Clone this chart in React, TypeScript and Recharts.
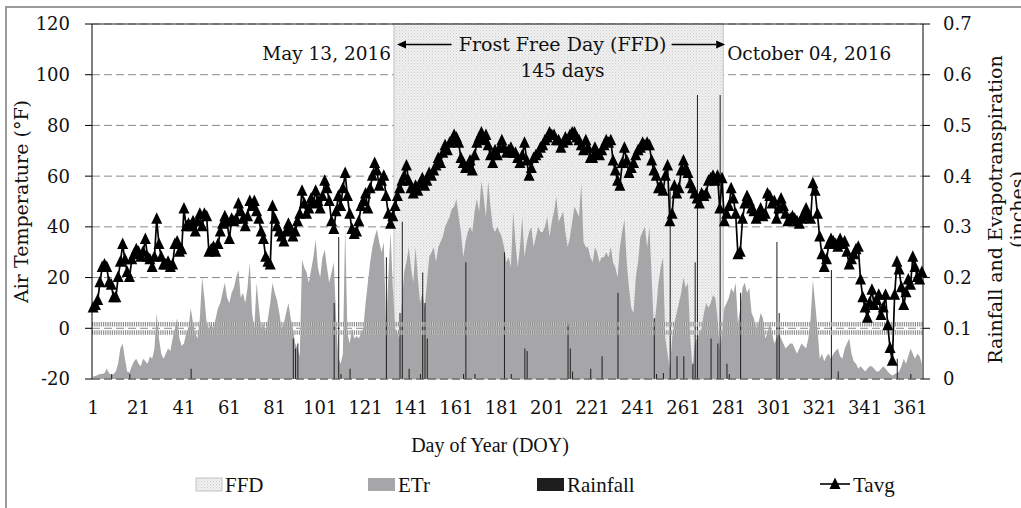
import React from 'react';
import {
  ComposedChart,
  Area,
  Bar,
  Line,
  XAxis,
  YAxis,
  CartesianGrid,
  ReferenceArea,
  ReferenceLine,
  Legend,
} from 'recharts';

// day of year, 2016 (leap year)
const days = Array.from({ length: 366 }, (_, i) => i + 1);

// average air temperature, °F
const tavg = [
  8, 9, 11, 18, 24, 25, 24, 18, 17, 12,
  12, 20, 26, 33, 27, 22, 20, 27, 29, 31,
  30, 28, 30, 35, 28, 27, 24, 28, 43, 33,
  28, 25, 25, 26, 24, 25, 33, 34, 30, 31,
  47, 40, 41, 40, 42, 38, 42, 45, 40, 45,
  44, 30, 31, 32, 30, 33, 38, 41, 44, 42,
  35, 43, 42, 43, 49, 46, 43, 40, 44, 50,
  48, 50, 46, 43, 38, 35, 28, 26, 25, 48,
  43, 40, 38, 36, 34, 38, 41, 39, 36, 38,
  42, 45, 54, 49, 45, 47, 51, 49, 54, 50,
  47, 52, 58, 55, 50, 42, 39, 46, 52, 48,
  55, 61, 52, 45, 39, 37, 38, 42, 48, 50,
  53, 47, 55, 60, 65, 62, 56, 58, 60, 52,
  45, 41, 44, 48, 52, 55, 58, 60, 64, 58,
  55, 53, 56, 54, 57, 59, 56, 58, 61, 60,
  62, 64, 67, 65, 69, 72, 70, 73, 74, 76,
  75, 73, 67, 65, 63, 64, 66, 62, 68, 73,
  75, 77, 74, 76, 72, 68, 65, 70, 68, 71,
  74, 71, 69, 70, 71, 69, 69, 67, 65, 68,
  73, 66, 60, 63, 67, 68, 69, 71, 72, 74,
  75, 77, 76, 76, 74, 74, 71, 73, 75, 74,
  76, 77, 77, 75, 74, 72, 70, 74, 71, 67,
  67, 71, 69, 68, 70, 72, 74, 73, 74, 66,
  62, 58, 56, 65, 71, 66, 61, 63, 65, 68,
  70, 71, 73, 72, 73, 72, 66, 62, 60, 55,
  56, 54, 60, 64, 42, 45, 56, 53, 55, 62,
  66, 63, 61, 57, 55, 53, 51, 49, 53, 52,
  53, 58, 59, 60, 58, 60, 47, 59, 42, 45,
  48, 55, 51, 45, 29, 30, 43, 49, 52, 50,
  47, 46, 43, 45, 47, 44, 45, 53, 52, 49,
  50, 43, 47, 51, 48, 45, 42, 43, 44, 43,
  42, 41, 43, 45, 47, 44, 43, 57, 54, 45,
  36, 29, 24, 27, 33, 35, 34, 33, 32, 35,
  33, 34, 30, 25, 27, 29, 31, 32, 19, 12,
  8, 4, 10, 15, 9, 11, 13, 5, 8, 13,
  1, -8, -13, 13, 26, 23, 16, 9, 14, 19,
  17, 28, 24, 20, 19, 22,
];

// reference evapotranspiration, inches
const etr = [
  0.005, 0.006, 0.008, 0.01, 0.01, 0.012, 0.02, 0.012, 0.008, 0.01,
  0.015, 0.03, 0.06, 0.07, 0.04, 0.015, 0.013, 0.025, 0.035, 0.04,
  0.03, 0.025, 0.04, 0.035, 0.03, 0.045, 0.04, 0.06, 0.13, 0.08,
  0.05, 0.04, 0.05, 0.06, 0.055, 0.08, 0.1, 0.12, 0.08, 0.065,
  0.07, 0.09, 0.1, 0.14, 0.11, 0.09, 0.08, 0.12, 0.2, 0.16,
  0.11, 0.1, 0.11, 0.1, 0.12, 0.14, 0.15, 0.17, 0.19, 0.16,
  0.15, 0.17, 0.18, 0.2, 0.215, 0.16, 0.17, 0.15, 0.18, 0.23,
  0.13, 0.1, 0.19, 0.14, 0.1, 0.11, 0.095, 0.12, 0.15, 0.19,
  0.17, 0.155, 0.13, 0.1, 0.11, 0.13, 0.15, 0.12, 0.1, 0.07,
  0.06, 0.045, 0.235, 0.22, 0.21, 0.19, 0.215, 0.24, 0.275, 0.22,
  0.2, 0.24, 0.255, 0.22, 0.19, 0.21, 0.23, 0.12, 0.04, 0.03,
  0.05, 0.3, 0.09, 0.07, 0.1, 0.08, 0.085, 0.08, 0.09, 0.1,
  0.15, 0.19, 0.23, 0.26, 0.28, 0.295, 0.27, 0.25, 0.27, 0.1,
  0.2, 0.29, 0.18, 0.1, 0.09, 0.08, 0.15, 0.21, 0.23, 0.26,
  0.22, 0.19, 0.26, 0.2, 0.15, 0.17, 0.14, 0.19, 0.24, 0.25,
  0.26, 0.23, 0.26, 0.27, 0.28, 0.3, 0.31, 0.32, 0.335, 0.34,
  0.355, 0.32, 0.29, 0.24, 0.27, 0.29, 0.3, 0.29, 0.33, 0.355,
  0.33, 0.39, 0.36, 0.32, 0.39, 0.34, 0.3, 0.29, 0.3, 0.29,
  0.28, 0.26, 0.23, 0.24, 0.22, 0.33, 0.27, 0.22, 0.26, 0.32,
  0.24, 0.27, 0.29, 0.3, 0.26, 0.28, 0.3, 0.29, 0.29, 0.3,
  0.32, 0.28, 0.31, 0.33, 0.36, 0.31, 0.32, 0.33, 0.29, 0.26,
  0.28, 0.31, 0.34, 0.33, 0.32, 0.385, 0.27, 0.26, 0.26, 0.24,
  0.23, 0.26, 0.25, 0.23, 0.24, 0.24, 0.25, 0.24, 0.26, 0.23,
  0.22, 0.2, 0.26, 0.29, 0.315, 0.23, 0.18, 0.14, 0.13, 0.2,
  0.23, 0.28, 0.29, 0.3, 0.26, 0.3, 0.2, 0.1, 0.14, 0.19,
  0.22, 0.24, 0.08, 0.05, 0.02, 0.08, 0.11, 0.13, 0.15, 0.17,
  0.2, 0.18, 0.19, 0.08, 0.02, 0.07, 0.08, 0.09, 0.1, 0.13,
  0.15, 0.14, 0.15, 0.165, 0.16, 0.12, 0.06, 0.09, 0.14, 0.15,
  0.16, 0.18, 0.17, 0.19, 0.11, 0.14, 0.18, 0.19, 0.17, 0.18,
  0.13, 0.12, 0.1, 0.11, 0.13, 0.12, 0.08, 0.09, 0.11, 0.09,
  0.07, 0.08, 0.09, 0.08, 0.07, 0.06, 0.065, 0.07, 0.07, 0.06,
  0.05, 0.06, 0.07, 0.065, 0.06, 0.08, 0.12, 0.195, 0.15, 0.1,
  0.04, 0.05, 0.035, 0.045, 0.05, 0.04, 0.05, 0.055, 0.06, 0.045,
  0.04, 0.06, 0.07, 0.08, 0.05, 0.035, 0.03, 0.02, 0.025, 0.02,
  0.015, 0.02, 0.025, 0.025, 0.02, 0.015, 0.015, 0.02, 0.025, 0.02,
  0.015, 0.01, 0.007, 0.01, 0.012, 0.015, 0.025, 0.04, 0.03, 0.045,
  0.06, 0.05, 0.04, 0.05, 0.045, 0.03,
];

// rainfall events (day of year -> inches)
const rainDays = [
  9, 17, 44, 89, 90, 91, 107, 109, 110, 114, 130, 136, 137, 140, 145, 146, 147, 148,
  164, 165, 169, 182, 185, 191, 192, 210, 211, 212, 220, 225, 232, 248, 249, 252,
  255, 258, 261, 265, 266, 267, 273, 276, 277, 280, 281, 286, 302, 303, 326, 329, 355, 361,
];
const rainValues = [
  0.01, 0.01, 0.02, 0.08, 0.06, 0.07, 0.15, 0.28, 0.01, 0.02, 0.24, 0.13, 0.31, 0.02, 0.01, 0.21, 0.15, 0.08,
  0.01, 0.23, 0.01, 0.25, 0.01, 0.06, 0.055, 0.11, 0.06, 0.015, 0.02, 0.045, 0.17, 0.12, 0.01, 0.012,
  0.37, 0.045, 0.045, 0.03, 0.23, 0.56, 0.08, 0.07, 0.56, 0.03, 0.01, 0.17, 0.27, 0.13, 0.215, 0.015, 0.04, 0.01,
];

const tempTicks = [-20, 0, 20, 40, 60, 80, 100, 120];
const waterTicks = [0, 0.1, 0.2, 0.3, 0.4, 0.5, 0.6, 0.7];

const ffdStart = 134; // May 13, 2016
const ffdEnd = 278; // October 04, 2016
const ffdLength = 145;

const rainByDay = new Map(rainDays.map((d, i) => [d, rainValues[i]]));
const data = days.map((day, i) => ({
  day,
  tavg: tavg[i],
  etr: etr[i],
  rain: rainByDay.has(day) ? rainByDay.get(day) : null,
}));

const SERIF = "'DejaVu Serif', Georgia, serif";
const TIMES = "'Liberation Serif', 'Times New Roman', serif";
const INK = '#111';
const ETR_GRAY = '#a6a6a8';

const Triangle = (props: any) => {
  const { cx, cy, index } = props;
  if (cx == null || cy == null) return null;
  return (
    <polygon
      key={`tri-${index}`}
      points={`${cx},${cy - 7} ${cx - 5.5},${cy + 4.5} ${cx + 5.5},${cy + 4.5}`}
      fill="#000"
    />
  );
};

const LeftTitle = (props: any) => {
  const vb = props.viewBox;
  const cy = vb.y + vb.height / 2;
  return (
    <text
      x={21}
      y={cy}
      transform={`rotate(-90 21 ${cy})`}
      textAnchor="middle"
      dominantBaseline="central"
      fontFamily={SERIF}
      fontSize={19}
      fill={INK}
    >
      Air Temperature (°F)
    </text>
  );
};

const RightTitle = (props: any) => {
  const vb = props.viewBox;
  const cy = vb.y + vb.height / 2 + 8;
  return (
    <g fontFamily={SERIF} fontSize={19} fill={INK}>
      <text x={995} y={cy} transform={`rotate(-90 995 ${cy})`} textAnchor="middle" dominantBaseline="central">
        Rainfall and Evapotranspiration
      </text>
      <text x={1017} y={cy} transform={`rotate(-90 1017 ${cy})`} textAnchor="middle" dominantBaseline="central">
        (inches)
      </text>
    </g>
  );
};

const BottomTitle = () => (
  <text x={490} y={452} textAnchor="middle" fontFamily={TIMES} fontSize={20} fill={INK}>
    Day of Year (DOY)
  </text>
);

const FfdLabel = (props: any) => {
  const vb = props.viewBox;
  if (!vb) return null;
  const x0 = vb.x;
  const x1 = vb.x + vb.width;
  const mid = (x0 + x1) / 2 + 4;
  const ay = vb.y + 20.5;
  return (
    <g fontFamily={SERIF} fontSize={18.5} fill={INK}>
      <text x={x0 - 3} y={vb.y + 36} textAnchor="end">May 13, 2016</text>
      <text x={mid} y={vb.y + 27} textAnchor="middle" fontSize={19}>Frost Free Day (FFD)</text>
      <text x={mid} y={vb.y + 53} textAnchor="middle">{`${ffdLength} days`}</text>
      <text x={x1 + 4} y={vb.y + 36} textAnchor="start">October 04, 2016</text>
      <line x1={x0 + 10} y1={ay} x2={mid - 111} y2={ay} stroke="#000" strokeWidth={1.6} />
      <polygon points={`${x0 + 3},${ay} ${x0 + 12},${ay - 4} ${x0 + 12},${ay + 4}`} fill="#000" />
      <line x1={mid + 109} y1={ay} x2={x1 - 7} y2={ay} stroke="#000" strokeWidth={1.6} />
      <polygon points={`${x1 + 2},${ay} ${x1 - 7},${ay - 4} ${x1 - 7},${ay + 4}`} fill="#000" />
    </g>
  );
};

const LegendContent = () => (
  <svg width={1021} height={30} style={{ display: 'block' }}>
    <defs>
      <pattern id="ffdLegendPattern" width="3" height="3" patternUnits="userSpaceOnUse">
        <rect width="3" height="3" fill="#f0f0f0" />
        <rect x="0" y="0" width="1" height="1" fill="#cccccc" />
        <rect x="1.5" y="1.5" width="1" height="1" fill="#d8d8d8" />
      </pattern>
    </defs>
    <g fontFamily={TIMES} fontSize={21} fill={INK}>
      <rect x={196} y={9} width={26} height={13} fill="url(#ffdLegendPattern)" stroke="#c4c4c4" strokeWidth={1} />
      <text x={225} y={23}>FFD</text>
      <rect x={368} y={9} width={27} height={13} fill={ETR_GRAY} />
      <text x={398} y={23}>ETr</text>
      <rect x={537} y={9} width={27} height={13} fill="#1e1e1e" />
      <text x={567} y={23}>Rainfall</text>
      <line x1={820} y1={15} x2={850} y2={15} stroke="#000" strokeWidth={1.6} />
      <polygon points="835,8.5 829.5,20 840.5,20" fill="#000" />
      <text x={853} y={23}>Tavg</text>
    </g>
  </svg>
);

export default function App() {
  return (
    <div
      style={{
        position: 'absolute',
        left: 0,
        top: 0,
        width: 1021,
        height: 508,
        overflow: 'hidden',
        background: '#fff',
      }}
    >
      <div
        style={{
          position: 'absolute',
          left: 5,
          top: 6,
          width: 1040,
          height: 540,
          border: '2px solid #9a9a9a',
        }}
      />
      <ComposedChart
        width={1021}
        height={508}
        data={data}
        margin={{ top: 24, right: 0, bottom: 99, left: 0 }}
        style={{ fontFamily: SERIF }}
      >
        <defs>
          <pattern id="ffdPattern" width="3" height="3" patternUnits="userSpaceOnUse">
            <rect width="3" height="3" fill="#f0f0f0" />
            <rect x="0" y="0" width="1" height="1" fill="#cfcfcf" />
            <rect x="1.5" y="1.5" width="1" height="1" fill="#dbdbdb" />
          </pattern>
        </defs>
        <CartesianGrid
          yAxisId="left"
          vertical={false}
          stroke="#8a8a8a"
          strokeDasharray="8 4"
        />
        <XAxis
          dataKey="day"
          interval={19}
          tickLine={false}
          tickSize={0}
          tickMargin={22}
          height={30}
          axisLine={{ stroke: '#555', strokeDasharray: '8 4' }}
          tick={{ fontFamily: SERIF, fontSize: 18, fill: INK }}
          label={<BottomTitle />}
        />
        <YAxis
          yAxisId="left"
          orientation="left"
          width={92}
          domain={[-20, 120]}
          ticks={tempTicks}
          interval={0}
          tickSize={7}
          tickMargin={15}
          axisLine={{ stroke: '#000' }}
          tickLine={{ stroke: '#000' }}
          tick={{ fontFamily: SERIF, fontSize: 18, fill: INK }}
          label={<LeftTitle />}
        />
        <YAxis
          yAxisId="right"
          orientation="right"
          width={98}
          domain={[0, 0.7]}
          ticks={waterTicks}
          interval={0}
          tickSize={7}
          tickMargin={13}
          axisLine={{ stroke: '#000' }}
          tickLine={{ stroke: '#000' }}
          tick={{ fontFamily: SERIF, fontSize: 18, fill: INK }}
          label={<RightTitle />}
        />
        <ReferenceArea
          yAxisId="left"
          x1={ffdStart}
          x2={ffdEnd}
          y1={-20}
          y2={120}
          fill="url(#ffdPattern)"
          fillOpacity={1}
          stroke="#bdbdbd"
          strokeWidth={1}
          zIndex={50}
          label={(p: any) => <FfdLabel {...p} />}
        />
        <Area
          yAxisId="right"
          dataKey="etr"
          type="linear"
          stroke="none"
          fill={ETR_GRAY}
          fillOpacity={1}
          isAnimationActive={false}
          activeDot={false}
        />
        <ReferenceLine yAxisId="left" y={1.6} stroke="#ffffff" strokeOpacity={0.35} strokeWidth={4.5} zIndex={350} />
        <ReferenceLine yAxisId="left" y={1.6} stroke="#8f8f8f" strokeWidth={4.5} strokeDasharray="1.2 1" zIndex={350} />
        <ReferenceLine yAxisId="left" y={-1.7} stroke="#ffffff" strokeOpacity={0.35} strokeWidth={4.5} zIndex={350} />
        <ReferenceLine yAxisId="left" y={-1.7} stroke="#8f8f8f" strokeWidth={4.5} strokeDasharray="1.2 1" zIndex={350} />
        <ReferenceLine yAxisId="left" y={120} stroke="#222" strokeWidth={1} zIndex={500} />
        <Bar
          yAxisId="right"
          dataKey="rain"
          fill="#1e1e1e"
          barSize={1}
          isAnimationActive={false}
        />
        <Line
          yAxisId="left"
          dataKey="tavg"
          type="linear"
          stroke="#000"
          strokeWidth={1.7}
          dot={<Triangle />}
          activeDot={false}
          isAnimationActive={false}
        />
        <Legend
          layout="horizontal"
          align="center"
          verticalAlign="middle"
          wrapperStyle={{ left: 0, top: 469, bottom: 'auto', width: 1021 }}
          content={<LegendContent />}
        />
      </ComposedChart>
    </div>
  );
}
